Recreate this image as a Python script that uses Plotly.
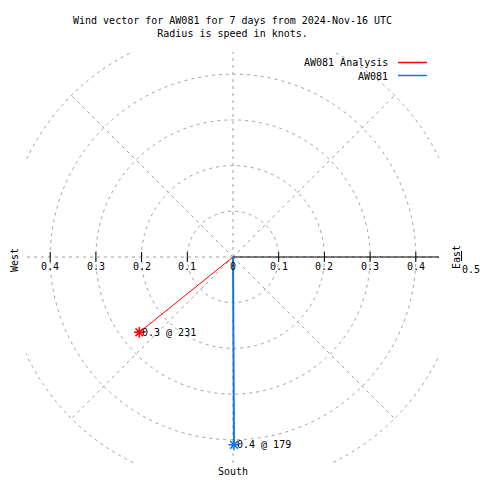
import math
import plotly.graph_objects as go

# ---- data ----
series_names = ["AW081 Analysis", "AW081"]
speeds = [0.263, 0.411]          # knots
directions = [231.2, 179.7]      # degrees, clockwise from north
colors = ["#ff0000", "#1376e6"]
line_widths = [1, 2]
grid_radii = [0.1, 0.2, 0.3, 0.4, 0.5]
tick_vals = [0.1, 0.2, 0.3, 0.4]
title_lines = ["Wind vector for AW081 for 7 days from 2024-Nov-16 UTC",
               "Radius is speed in knots."]

# ---- geometry ----
W = H = 480
L, R, T, B = 26, 41, 52, 17
scale = 457.0  # px per knot
cx, cy = 233, 257
xr = [(L - cx) / scale, (W - R - cx) / scale]
yr = [-(H - B - cy) / scale, (cy - T) / scale]
pw, ph = W - L - R, H - T - B


def paper(xp, yp):
    return (xp - L) / pw, (H - B - yp) / ph


FONT = dict(family="DejaVu Sans Mono", size=10, color="black")
GRID = dict(color="#a0a0a0", width=1, dash="3px,4px")

fig = go.Figure()
shapes = []
annotations = []


def ptext(xp, yp, text, xanchor="center", yanchor="middle", **kw):
    pp = paper(xp, yp)
    annotations.append(dict(x=pp[0], y=pp[1], xref="paper", yref="paper", text=text,
                            showarrow=False, xanchor=xanchor, yanchor=yanchor,
                            font=FONT, **kw))


# grid circles
for r in grid_radii:
    shapes.append(dict(type="circle", xref="x", yref="y", x0=-r, x1=r, y0=-r, y1=r,
                       line=GRID, layer="below"))
# radial grid lines every 45 degrees
rmax = max(grid_radii)
for k in range(8):
    a = math.radians(45 * k)
    shapes.append(dict(type="line", xref="x", yref="y", x0=0, y0=0,
                       x1=rmax * math.cos(a), y1=rmax * math.sin(a),
                       line=GRID, layer="below"))
# polar axis line (east)
shapes.append(dict(type="line", xref="x", yref="y", x0=0, y0=0, x1=rmax, y1=0,
                   line=dict(color="black", width=1), layer="below"))
# ticks
for v in tick_vals:
    for sgn in (1, -1):
        shapes.append(dict(type="line", xref="x", yref="y", ysizemode="pixel", yanchor=0,
                           x0=sgn * v, x1=sgn * v, y0=-5, y1=5,
                           line=dict(color="black", width=1)))
# tick at 0.5 beyond the box
px05 = cx + rmax * scale
p0 = paper(px05, 251)
p1 = paper(px05, 261)
shapes.append(dict(type="line", xref="paper", yref="paper", x0=p0[0], x1=p1[0],
                   y0=p0[1], y1=p1[1], line=dict(color="black", width=1)))

# tick labels
for v in tick_vals:
    for sgn in (-1, 1):
        annotations.append(dict(x=sgn * v, y=0, xref="x", yref="y", text=f"{v:.1f}",
                                showarrow=False, xanchor="center", yanchor="middle",
                                yshift=-9, font=FONT))
annotations.append(dict(x=0, y=0, xref="x", yref="y", text="0", showarrow=False,
                        xanchor="center", yanchor="middle", yshift=-9, font=FONT))
ptext(471, 269, f"{rmax:.1f}")

# vectors
for name, s, d, c, lw in zip(series_names, speeds, directions, colors, line_widths):
    x = s * math.sin(math.radians(d))
    y = s * math.cos(math.radians(d))
    fig.add_trace(go.Scatter(x=[0, x], y=[0, y], mode="lines", name=name,
                             line=dict(color=c, width=lw), showlegend=False,
                             hoverinfo="skip"))
    fig.add_trace(go.Scatter(x=[x], y=[y], mode="markers", name=name,
                             marker=dict(symbol="asterisk-open", size=9,
                                         line=dict(color=c, width=1.5), color=c),
                             showlegend=False, hoverinfo="skip"))
    annotations.append(dict(x=x, y=y, xref="x", yref="y", text=f"{s:.1f} @ {int(d)}",
                            showarrow=False, xanchor="left", yanchor="middle",
                            xshift=1, font=FONT))

# titles
ptext(232, 27, "<br>".join(title_lines))
# direction labels
ptext(14, 260, "West", textangle=-90)
ptext(456, 257, "East", textangle=-90)
ptext(233, 471, "South")

# manual legend
for i, (name, c) in enumerate(zip(series_names, colors)):
    yp = 63 + 13 * i
    ptext(390, yp, name, xanchor="right")
    a = paper(398, yp - 0.5)
    b = paper(427, yp - 0.5)
    shapes.append(dict(type="line", xref="paper", yref="paper", x0=a[0], x1=b[0],
                       y0=a[1], y1=b[1], line=dict(color=c, width=1.5)))

fig.update_layout(
    width=W, height=H, margin=dict(l=L, r=R, t=T, b=B),
    paper_bgcolor="white", plot_bgcolor="white",
    xaxis=dict(range=xr, showgrid=False, zeroline=False, showticklabels=False,
               showline=False, ticks="", fixedrange=True),
    yaxis=dict(range=yr, showgrid=False, zeroline=False, showticklabels=False,
               showline=False, ticks="", fixedrange=True),
    shapes=shapes, annotations=annotations, showlegend=False, hovermode=False,
)

fig.write_html("out.html", config={"displayModeBar": False},
               post_script="document.body.style.margin='0px';")
